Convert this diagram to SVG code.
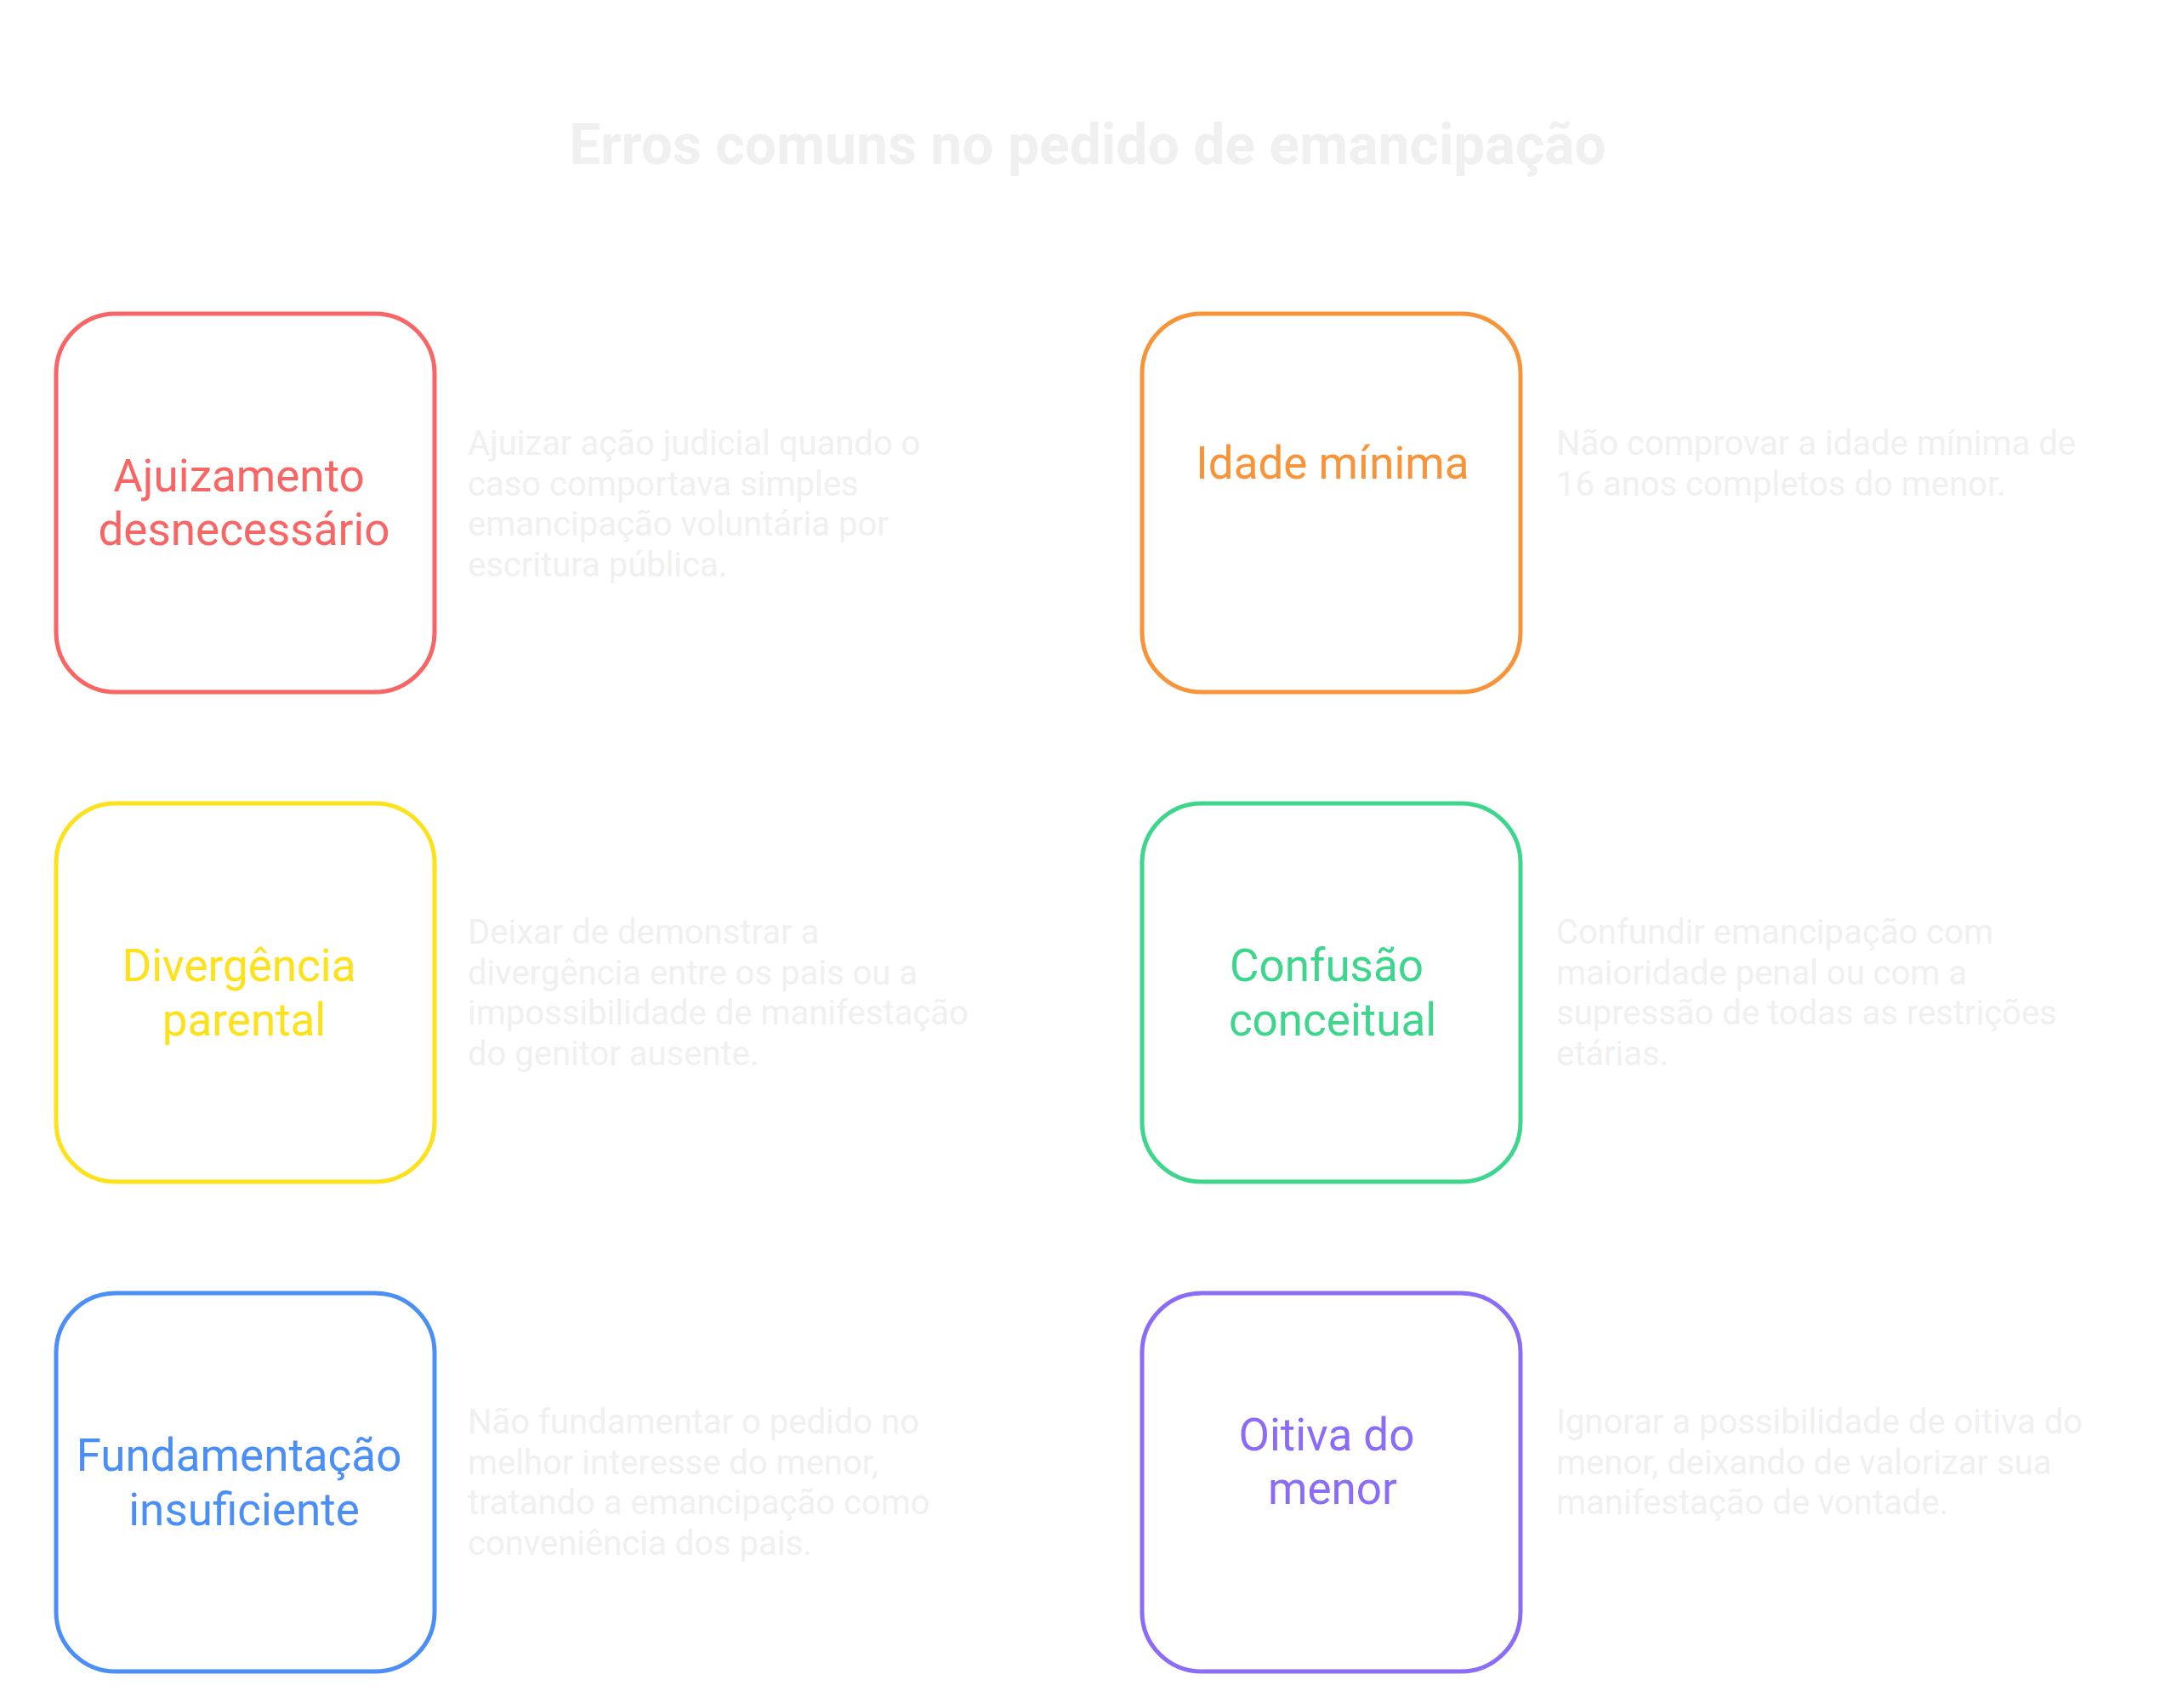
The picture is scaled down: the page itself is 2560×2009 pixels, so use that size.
<svg xmlns="http://www.w3.org/2000/svg" width="2560" height="2009" viewBox="0 0 2560 2009">
<style>
.box{fill:#fff;stroke-width:5}
.lbl{font-family:Roboto,"Liberation Sans",sans-serif;font-size:53px;text-anchor:middle}
.desc{font-family:Roboto,"Liberation Sans",sans-serif;font-size:40px;fill:#f0f0f0}
.title{font-family:Roboto,"Liberation Sans",sans-serif;font-size:66px;font-weight:bold;fill:#f0f0f0;text-anchor:middle}
</style>
<rect width="2560" height="2009" fill="#fff"/>
<text class="title" x="1279" y="193">Erros comuns no pedido de emancipação</text>
<g id="n1"><rect class="box" x="66" y="369" width="445" height="445" rx="70" stroke="#f76565"/>
<text class="lbl" fill="#f76565" x="281" y="578">Ajuizamento</text><text class="lbl" fill="#f76565" x="287" y="641">desnecessário</text>
<text class="desc" x="550" y="535">Ajuizar ação judicial quando o</text><text class="desc" x="550" y="583">caso comportava simples</text><text class="desc" x="550" y="630">emancipação voluntária por</text><text class="desc" x="550" y="678">escritura pública.</text></g>
<g id="n2"><rect class="box" x="1343" y="369" width="445" height="445" rx="70" stroke="#f7943a"/>
<text class="lbl" fill="#f7943a" x="1567" y="563">Idade mínima</text>
<text class="desc" x="1830" y="535">Não comprovar a idade mínima de</text><text class="desc" x="1830" y="583">16 anos completos do menor.</text></g>
<g id="n3"><rect class="box" x="66" y="945" width="445" height="445" rx="70" stroke="#fde11b"/>
<text class="lbl" fill="#fde11b" x="281" y="1154">Divergência</text><text class="lbl" fill="#fde11b" x="287" y="1218">parental</text>
<text class="desc" x="550" y="1110">Deixar de demonstrar a</text><text class="desc" x="550" y="1158">divergência entre os pais ou a</text><text class="desc" x="550" y="1205">impossibilidade de manifestação</text><text class="desc" x="550" y="1253">do genitor ausente.</text></g>
<g id="n4"><rect class="box" x="1343" y="945" width="445" height="445" rx="70" stroke="#3dd68c"/>
<text class="lbl" fill="#3dd68c" x="1560" y="1154">Confusão</text><text class="lbl" fill="#3dd68c" x="1567" y="1218">conceitual</text>
<text class="desc" x="1830" y="1110">Confundir emancipação com</text><text class="desc" x="1830" y="1158">maioridade penal ou com a</text><text class="desc" x="1830" y="1205">supressão de todas as restrições</text><text class="desc" x="1830" y="1253">etárias.</text></g>
<g id="n5"><rect class="box" x="66" y="1521" width="445" height="445" rx="70" stroke="#4b8ef6"/>
<text class="lbl" fill="#4b8ef6" x="281" y="1730">Fundamentação</text><text class="lbl" fill="#4b8ef6" x="287" y="1794">insuficiente</text>
<text class="desc" x="550" y="1686">Não fundamentar o pedido no</text><text class="desc" x="550" y="1734">melhor interesse do menor,</text><text class="desc" x="550" y="1781">tratando a emancipação como</text><text class="desc" x="550" y="1829">conveniência dos pais.</text></g>
<g id="n6"><rect class="box" x="1343" y="1521" width="445" height="445" rx="70" stroke="#8a6cf6"/>
<text class="lbl" fill="#8a6cf6" x="1560" y="1706">Oitiva do</text><text class="lbl" fill="#8a6cf6" x="1567" y="1769">menor</text>
<text class="desc" x="1830" y="1686">Ignorar a possibilidade de oitiva do</text><text class="desc" x="1830" y="1734">menor, deixando de valorizar sua</text><text class="desc" x="1830" y="1781">manifestação de vontade.</text></g>
<g id="connectors"/>
</svg>
